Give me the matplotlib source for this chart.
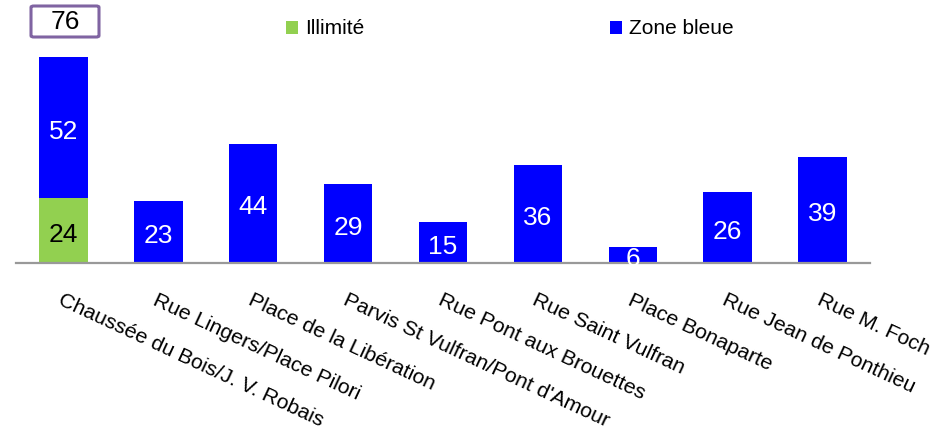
"""Parking places by street: stacked bars (Illimité / Zone bleue)."""

import numpy as np
from matplotlib import pyplot as plt
from matplotlib.patches import FancyBboxPatch

plt.rcParams['font.family'] = ['Liberation Sans', 'DejaVu Sans']

streets = [
    'Chaussée du Bois/J. V. Robais',
    'Rue Lingers/Place Pilori',
    'Place de la Libération',
    'Parvis St Vulfran/Pont d\'Amour',
    'Rue Pont aux Brouettes',
    'Rue Saint Vulfran',
    'Place Bonaparte',
    'Rue Jean de Ponthieu',
    'Rue M. Foch',
]
illimite = [24, 0, 0, 0, 0, 0, 0, 0, 0]
zone_bleue = [52, 23, 44, 29, 15, 36, 6, 26, 39]
total_first = 76

GREEN = '#92D050'
BLUE = '#0000FF'

fig = plt.figure(figsize=(9.48, 4.32), dpi=100)
ax = fig.add_axes([16 / 948, 1 - 263 / 432, 854 / 948, 217 / 432])

x = np.arange(len(streets))
width = 0.51
ax.bar(x, illimite, width, color=GREEN, label='Illimité')
ax.bar(x, zone_bleue, width, bottom=illimite, color=BLUE, label='Zone bleue')

# value labels inside bars (sit a little below the exact centre, like Excel)
for i, (g, b) in enumerate(zip(illimite, zone_bleue)):
    if g:
        ax.annotate(str(g), xy=(i, g / 2), xytext=(0, -3),
                    textcoords='offset points', ha='center', va='center',
                    fontsize=19, color='black')
    ax.annotate(str(b), xy=(i, g + b / 2), xytext=(0, -3),
                textcoords='offset points', ha='center', va='center',
                fontsize=19, color='white')

ax.set_xlim(-0.5, len(streets) - 0.5)
ax.set_ylim(0, 80)
for side in ('left', 'right', 'top'):
    ax.spines[side].set_visible(False)
ax.spines['bottom'].set_color('#999999')
ax.spines['bottom'].set_linewidth(1.6)
ax.set_yticks([])
ax.set_xticks(x)
ax.set_xticklabels([])
ax.tick_params(axis='x', length=0)

# rotated category labels
for i, name in enumerate(streets):
    ax.annotate(name, xy=(i, 0), xytext=(-3, -26), textcoords='offset points',
                rotation=-25, rotation_mode='anchor', ha='left', va='center',
                fontsize=15.3, color='black', annotation_clip=False)

# total box above first bar
fig.text(65 / 948, 1 - 22 / 432, str(total_first), ha='center', va='center',
         fontsize=19, color='black')
box = FancyBboxPatch((31 / 948, 1 - 37 / 432), 68 / 948, 31 / 432,
                     boxstyle='round,pad=0,rounding_size=0.003',
                     transform=fig.transFigure, facecolor='none',
                     edgecolor='#8064A2', linewidth=2.2)
fig.patches.append(box)

fig.legend(loc='center', bbox_to_anchor=(510 / 948, 1 - 29 / 432), ncol=2,
           frameon=False, fontsize=15, handlelength=0.57, handleheight=0.57,
           handletextpad=0.33, columnspacing=11.8)

fig.savefig('out.png', dpi=100)
